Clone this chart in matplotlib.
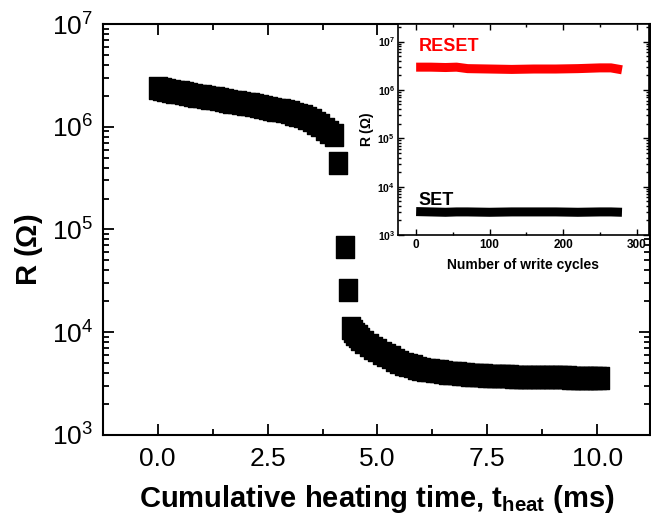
import numpy as np
import matplotlib.pyplot as plt
from matplotlib.path import Path
from matplotlib.ticker import LogLocator, FixedLocator, MultipleLocator, FuncFormatter, NullFormatter

plt.rcParams['font.family'] = ['Liberation Sans', 'DejaVu Sans']
plt.rcParams['mathtext.fontset'] = 'custom'
plt.rcParams['mathtext.rm'] = 'Liberation Sans'
plt.rcParams['mathtext.bf'] = 'Liberation Sans:bold'
plt.rcParams['mathtext.it'] = 'Liberation Sans:italic'

# main curve, amorphous (high R) part: time in ms, R in ohm
t_high = [0.0, 0.1, 0.2, 0.3, 0.4, 0.5, 0.6, 0.7, 0.8, 0.9, 1.0, 1.1, 1.2, 1.3,
          1.4, 1.5, 1.6, 1.7, 1.8, 1.9, 2.0, 2.1, 2.2, 2.3, 2.4, 2.5, 2.6, 2.7,
          2.8, 2.9, 3.0, 3.1, 3.2, 3.3, 3.4, 3.5, 3.6, 3.7, 3.8, 3.9, 4.0]
r_high = [2.38e6, 2.33e6, 2.28e6, 2.24e6, 2.2e6, 2.16e6, 2.12e6, 2.08e6, 2.05e6,
          2.01e6, 1.98e6, 1.95e6, 1.92e6, 1.89e6, 1.86e6, 1.83e6, 1.8e6, 1.76e6,
          1.73e6, 1.7e6, 1.67e6, 1.65e6, 1.62e6, 1.59e6, 1.56e6, 1.53e6, 1.5e6,
          1.47e6, 1.44e6, 1.41e6, 1.38e6, 1.34e6, 1.3e6, 1.26e6, 1.22e6, 1.16e6,
          1.1e6, 1.03e6, 0.96e6, 0.89e6, 0.83e6]
# transition points
t_drop = [4.1, 4.25, 4.33, 4.4]
r_drop = [4.4e5, 6.8e4, 2.6e4, 1.1e4]
# crystalline (low R) part
t_low = [4.45, 4.5, 4.55, 4.6, 4.7, 4.8, 4.9, 5.0, 5.1, 5.2, 5.3, 5.4, 5.5, 5.6,
         5.7, 5.8, 5.9, 6.0, 6.1, 6.2, 6.3, 6.4, 6.5, 6.6, 6.7, 6.8, 6.9, 7.0,
         7.1, 7.2, 7.3, 7.4, 7.5, 7.6, 7.7, 7.8, 7.9, 8.0, 8.1, 8.2, 8.3, 8.4,
         8.5, 8.6, 8.7, 8.8, 8.9, 9.0, 9.1, 9.2, 9.3, 9.4, 9.5, 9.6, 9.7, 9.8,
         9.9, 10.0, 10.07]
r_low = [1.03e4, 9.6e3, 9.1e3, 8.6e3, 8.0e3, 7.5e3, 7.1e3, 6.7e3, 6.3e3, 6.0e3,
         5.7e3, 5.4e3, 5.15e3, 4.95e3, 4.8e3, 4.65e3, 4.52e3, 4.4e3, 4.32e3,
         4.25e3, 4.2e3, 4.15e3, 4.1e3, 4.05e3, 4.01e3, 3.98e3, 3.94e3, 3.9e3,
         3.87e3, 3.85e3, 3.82e3, 3.8e3, 3.78e3, 3.76e3, 3.75e3, 3.73e3, 3.72e3,
         3.71e3, 3.7e3, 3.69e3, 3.68e3, 3.67e3, 3.67e3, 3.66e3, 3.66e3, 3.65e3,
         3.65e3, 3.64e3, 3.64e3, 3.63e3, 3.63e3, 3.62e3, 3.62e3, 3.61e3, 3.61e3,
         3.6e3, 3.6e3, 3.6e3, 3.6e3]

# inset: write cycles
cycles = [0, 20, 40, 55, 70, 100, 130, 160, 190, 220, 250, 265, 280]
r_reset = [2.95e6, 2.95e6, 2.9e6, 2.95e6, 2.75e6, 2.7e6, 2.65e6, 2.7e6, 2.7e6,
           2.75e6, 2.85e6, 2.85e6, 2.6e6]
r_set = [3.05e3, 3.0e3, 2.95e3, 3.0e3, 3.0e3, 2.95e3, 3.0e3, 3.0e3, 3.0e3,
         2.95e3, 3.0e3, 3.0e3, 2.95e3]

t_heat = t_high + t_drop + t_low
resistance = r_high + r_drop + r_low

fig = plt.figure(figsize=(6.51, 5.22), dpi=100)
ax = fig.add_axes([0.1578, 0.1667, 0.8407, 0.7873])

rect = Path([(-0.386, -0.5), (0.386, -0.5), (0.386, 0.5), (-0.386, 0.5), (-0.386, -0.5)],
            [Path.MOVETO, Path.LINETO, Path.LINETO, Path.LINETO, Path.CLOSEPOLY])
ax.plot(t_heat, resistance, ls='none', marker=rect, ms=16, color='black', mec='black')

ax.set_yscale('log')
ax.set_ylim(1e3, 1e7)
ax.set_xlim(-1.25, 11.2)
ax.xaxis.set_major_locator(MultipleLocator(2.5))
ax.xaxis.set_minor_locator(MultipleLocator(1.25))
ax.xaxis.set_major_formatter(FuncFormatter(lambda v, p: f'{v:.1f}'))
ax.yaxis.set_major_locator(FixedLocator([1e3, 1e4, 1e5, 1e6, 1e7]))
ax.yaxis.set_minor_locator(LogLocator(base=10, subs=np.arange(2, 10)))
ax.yaxis.set_minor_formatter(NullFormatter())
ax.yaxis.set_major_formatter(FuncFormatter(lambda v, p: r'$\mathregular{10^{%d}}$' % round(np.log10(v))))
ax.tick_params(which='both', direction='in', top=True, right=True, width=1.3, labelsize=19)
ax.tick_params(which='major', length=8)
ax.tick_params(which='minor', length=4.5)
ax.tick_params(axis='x', pad=9)
ax.tick_params(axis='y', pad=7)
for s in ax.spines.values():
    s.set_linewidth(1.5)
ax.set_xlabel(r'Cumulative heating time, t$_{\mathbf{heat}}$ (ms)', fontsize=21,
              fontweight='bold', labelpad=8)
ax.set_ylabel(r'R ($\mathbf{\Omega}$)', fontsize=21, fontweight='bold')
ax.yaxis.set_label_coords(-0.105, 0.45)

# inset
ins = fig.add_axes([0.611, 0.5498, 0.3862, 0.4042])
ins.plot(cycles, r_reset, color='red', lw=6.5, solid_capstyle='butt')
ins.plot(cycles, r_set, color='black', lw=6.5, solid_capstyle='butt')
ins.set_yscale('log')
ins.set_ylim(1e3, 2.3e7)
ins.set_xlim(-25, 317)
ins.xaxis.set_major_locator(MultipleLocator(100))
ins.xaxis.set_minor_locator(MultipleLocator(50))
ins.yaxis.set_major_locator(FixedLocator([1e3, 1e4, 1e5, 1e6, 1e7]))
ins.yaxis.set_minor_locator(LogLocator(base=10, subs=np.arange(2, 10)))
ins.yaxis.set_minor_formatter(NullFormatter())
ins.yaxis.set_major_formatter(FuncFormatter(lambda v, p: r'$\mathbf{10^{%d}}$' % round(np.log10(v))))
ins.tick_params(which='both', direction='in', top=True, right=True, width=1.0)
ins.tick_params(which='major', length=4)
ins.tick_params(which='minor', length=2)
ins.tick_params(axis='x', labelsize=8.5, pad=3)
ins.tick_params(axis='y', labelsize=7.5, pad=2)
for lab in ins.get_xticklabels():
    lab.set_fontweight('bold')
for s in ins.spines.values():
    s.set_linewidth(1.2)
ins.set_xlabel('Number of write cycles', fontsize=10, fontweight='bold', labelpad=5)
ins.set_ylabel(r'R ($\mathbf{\Omega}$)', fontsize=10, fontweight='bold', labelpad=1)
ins.text(3, 6.3e6, 'RESET', color='red', fontsize=13, fontweight='bold')
ins.text(3, 4.2e3, 'SET', color='black', fontsize=13, fontweight='bold')

fig.savefig('out.png', dpi=100)
